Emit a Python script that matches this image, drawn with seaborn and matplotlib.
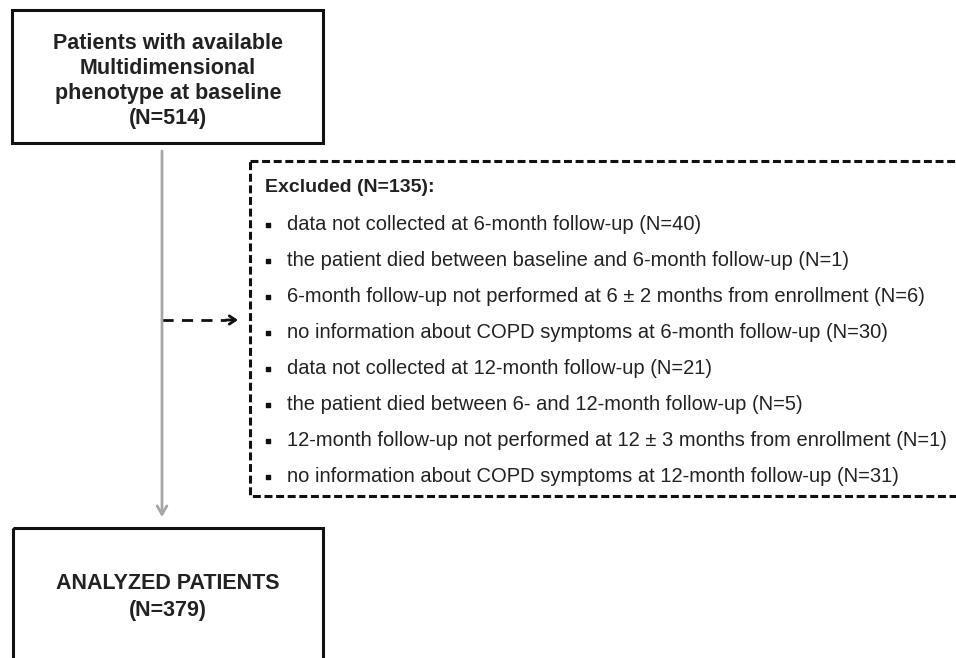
import matplotlib
matplotlib.use('Agg')
import matplotlib.pyplot as plt
import matplotlib.patches as mpatches
import numpy as np
import pandas as pd
import seaborn as sns

# flowchart content
top_label = "Patients with available\nMultidimensional\nphenotype at baseline"
top_n = 514
excluded_n = 135
reasons = [
    "data not collected at 6-month follow-up",
    "the patient died between baseline and 6-month follow-up",
    "6-month follow-up not performed at 6 \u00b1 2 months from enrollment",
    "no information about COPD symptoms at 6-month follow-up",
    "data not collected at 12-month follow-up",
    "the patient died between 6- and 12-month follow-up",
    "12-month follow-up not performed at 12 \u00b1 3 months from enrollment",
    "no information about COPD symptoms at 12-month follow-up",
]
reason_counts = [40, 1, 6, 30, 21, 5, 1, 31]
final_label = "ANALYZED PATIENTS"
final_n = 379

sns.set_style("white")
plt.rcParams['font.family'] = ['Liberation Sans', 'DejaVu Sans']

W, H = 956, 658
fig = plt.figure(figsize=(W / 100, H / 100), dpi=100)
ax = fig.add_axes([0, 0, 1, 1])
ax.set_xlim(0, W)
ax.set_ylim(H, 0)
ax.axis('off')

ink = '#222222'

# top box
ax.add_patch(mpatches.Rectangle((12, 10), 311, 133, fill=False,
                                edgecolor='#111111', linewidth=2.2))
ax.text(168, 81, f"{top_label}\n(N={top_n})", ha='center', va='center',
        fontsize=15.5, fontweight='bold', color=ink, linespacing=1.27)

# grey main arrow
ax.annotate("", xy=(162, 517), xytext=(162, 151),
            arrowprops=dict(arrowstyle='->,head_length=0.6,head_width=0.35',
                            color='#a6a6a6', lw=2.0, shrinkA=0, shrinkB=0))

# dashed side arrow
ax.plot([162, 226], [320, 320], color='#111111', lw=2.0,
        dashes=(4, 3), solid_capstyle='butt')
ax.annotate("", xy=(238, 320), xytext=(226, 320),
            arrowprops=dict(arrowstyle='->,head_length=0.45,head_width=0.3',
                            color='#111111', lw=2.0, shrinkA=0, shrinkB=0))

# dashed exclusion box (right side runs off the picture)
ax.add_patch(mpatches.Rectangle((250, 161), 720, 335, fill=False,
                                edgecolor='#111111', linewidth=2.2,
                                linestyle=(0, (2.6, 1.2))))
ax.text(265, 188, f"Excluded (N={excluded_n}):", ha='left', va='center',
        fontsize=14, fontweight='bold', color=ink)

rows = pd.DataFrame({"reason": reasons, "n": reason_counts})
rows["y"] = 225 + np.arange(len(rows)) * 36
ax.scatter(np.full(len(rows), 268), rows["y"], marker='s', s=9,
           color='#111111')
for _, r in rows.iterrows():
    ax.text(287, r["y"], f"{r['reason']} (N={r['n']})", ha='left',
            va='center', fontsize=14.5, color=ink)

# final box (bottom runs off the picture)
ax.add_patch(mpatches.Rectangle((13, 528), 310, 160, fill=False,
                                edgecolor='#111111', linewidth=2.2))
ax.text(168, 597, f"{final_label}\n(N={final_n})", ha='center', va='center',
        fontsize=15.5, fontweight='bold', color=ink, linespacing=1.4)

fig.savefig("out.png", dpi=100)
plt.close(fig)
